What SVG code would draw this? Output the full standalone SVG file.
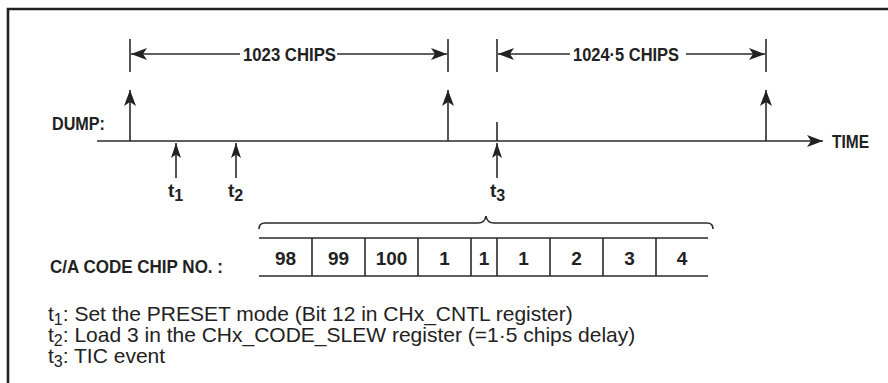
<svg xmlns="http://www.w3.org/2000/svg" width="888" height="383" viewBox="0 0 888 383">
<style>
.b{font-family:"Liberation Sans",Arial,sans-serif;font-weight:bold;font-size:19px;fill:#222}
.r{font-family:"Liberation Sans",Arial,sans-serif;font-size:21px;fill:#222}
.ln{stroke:#2a2a2a;stroke-width:1.6;fill:none}
.c{text-anchor:middle}
</style>
<defs>
<marker id="ah" markerUnits="userSpaceOnUse" viewBox="0 0 16 12" refX="16" refY="6" markerWidth="16" markerHeight="12" orient="auto">
<path d="M0,0 L16,6 L0,12 L4,6 Z" fill="#222"/>
</marker>
<marker id="ahs" markerUnits="userSpaceOnUse" viewBox="0 0 15 10" refX="15" refY="5" markerWidth="15" markerHeight="10" orient="auto">
<path d="M0,0 L15,5 L0,10 L3.5,5 Z" fill="#222"/>
</marker>
</defs>
<path d="M8,383 L8,9 L888,9" fill="none" stroke="#222" stroke-width="2.6"/>
<g id="connectors">
<line class="ln" x1="130" y1="39" x2="130" y2="72"/>
<line class="ln" x1="448" y1="39" x2="448" y2="72"/>
<line class="ln" x1="497" y1="39" x2="497" y2="72"/>
<line class="ln" x1="766" y1="39" x2="766" y2="72"/>
<line class="ln" x1="240" y1="54" x2="131" y2="54" marker-end="url(#ah)"/>
<line class="ln" x1="337" y1="54" x2="447" y2="54" marker-end="url(#ah)"/>
<line class="ln" x1="570" y1="54" x2="498" y2="54" marker-end="url(#ah)"/>
<line class="ln" x1="686" y1="54" x2="765" y2="54" marker-end="url(#ah)"/>
<line class="ln" x1="97" y1="141" x2="823" y2="141" marker-end="url(#ah)"/>
<line class="ln" x1="130" y1="141" x2="130" y2="90" marker-end="url(#ah)"/>
<line class="ln" x1="448" y1="141" x2="448" y2="90" marker-end="url(#ah)"/>
<line class="ln" x1="766" y1="141" x2="766" y2="90" marker-end="url(#ah)"/>
<line class="ln" x1="497" y1="122" x2="497" y2="141"/>
<line class="ln" x1="176" y1="178" x2="176" y2="143" marker-end="url(#ahs)"/>
<line class="ln" x1="236" y1="178" x2="236" y2="143" marker-end="url(#ahs)"/>
<line class="ln" x1="497" y1="178" x2="497" y2="143" marker-end="url(#ahs)"/>
<path class="ln" d="M259,229 Q259,223 265,223 L478,223 Q485,223 486,216 Q487,223 494,223 L707,223 Q713,223 713,229"/>
</g>
<g id="dim1"><text class="b c" x="289.5" y="61" textLength="93" lengthAdjust="spacingAndGlyphs">1023 CHIPS</text></g>
<g id="dim2"><text class="b c" x="626" y="61" textLength="106" lengthAdjust="spacingAndGlyphs">1024·5 CHIPS</text></g>
<g id="dump"><text class="b" x="52" y="130" textLength="53" lengthAdjust="spacingAndGlyphs">DUMP:</text></g>
<g id="time"><text class="b" x="832" y="148" textLength="37" lengthAdjust="spacingAndGlyphs">TIME</text></g>
<g id="t1"><text class="b" x="168" y="197" font-size="20">t<tspan dy="4" font-size="16">1</tspan></text></g>
<g id="t2"><text class="b" x="228" y="197" font-size="20">t<tspan dy="4" font-size="16">2</tspan></text></g>
<g id="t3"><text class="b" x="490" y="197" font-size="20">t<tspan dy="4" font-size="16">3</tspan></text></g>
<g id="label"><text class="b" x="50" y="273" textLength="173" lengthAdjust="spacingAndGlyphs">C/A CODE CHIP NO. :</text></g>
<g id="table">
<path class="ln" d="M259,238 H708 M259,276 H708 M312,238 V276 M365,238 V276 M418,238 V276 M471,238 V276 M497,238 V276 M550,238 V276 M603,238 V276 M656,238 V276"/>
<text class="b c" x="285.5" y="265">98</text>
<text class="b c" x="338.5" y="265">99</text>
<text class="b c" x="391.5" y="265">100</text>
<text class="b c" x="444.5" y="265">1</text>
<text class="b c" x="484" y="265">1</text>
<text class="b c" x="523.5" y="265">1</text>
<text class="b c" x="576.5" y="265">2</text>
<text class="b c" x="629.5" y="265">3</text>
<text class="b c" x="682" y="265">4</text>
</g>
<g id="notes">
<text class="r" x="48" y="321">t<tspan dy="4" font-size="16">1</tspan><tspan dy="-4">: Set the PRESET mode (Bit 12 in CHx_CNTL register)</tspan></text>
<text class="r" x="48" y="342">t<tspan dy="4" font-size="16">2</tspan><tspan dy="-4">: Load 3 in the CHx_CODE_SLEW register (=1·5 chips delay)</tspan></text>
<text class="r" x="48" y="363">t<tspan dy="4" font-size="16">3</tspan><tspan dy="-4">: TIC event</tspan></text>
</g>
</svg>
